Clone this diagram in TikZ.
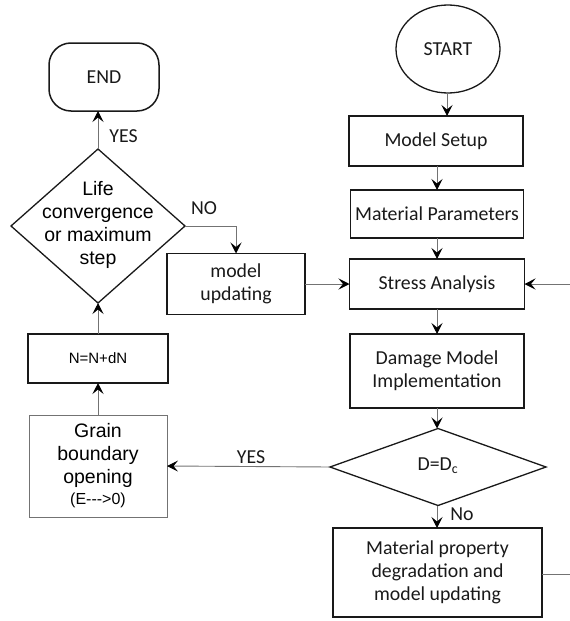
\documentclass[tikz,border=0pt]{standalone}
\usepackage{fontspec}
\setmainfont{Carlito}
\newfontfamily\arialf{Liberation Sans}
\usetikzlibrary{arrows.meta,shapes.geometric}
\begin{document}
\begin{tikzpicture}[x=1pt,y=-1pt,
  cfont/.style={font=\fontsize{19.8}{23}\selectfont},
  afont/.style={font=\arialf\fontsize{19.5}{23}\selectfont},
  box/.style={draw=black!90, line width=1.5pt, inner sep=0pt, outer sep=0pt, align=center, text=black!90, cfont},
  thinbox/.style={draw=black!55, line width=0.8pt, inner sep=0pt, outer sep=0pt, align=center, text=black, afont},
  dia/.style={diamond, draw=black!90, line width=1.3pt, inner sep=0pt, outer sep=0pt},
  arr/.style={draw=black!55, line width=0.9pt, -{Stealth[length=11pt,width=11pt,inset=4.5pt,color=black]}},
  plain/.style={draw=black!55, line width=0.9pt},
  lab/.style={cfont, text=black!90, inner sep=0pt}
]
\useasboundingbox (0,0) rectangle (570,621);

% left column
\node[box, rounded corners=22pt, minimum width=110pt, minimum height=68pt] (end) at (104,77) {END};
\node[dia, minimum width=174pt, minimum height=154pt] (life) at (98,226) {};
\node[afont, align=center, text=black, inner sep=0pt] (lifet) at (98,225) {Life\\convergence\\or maximum\\step};
\node[box, minimum width=140pt, minimum height=49pt, text=black, font=\arialf\fontsize{15}{18}\selectfont] (nn) at (98,358.5) {N=N+dN};
\node[thinbox, minimum width=138pt, minimum height=102pt] (gb) at (98,466) {Grain\\boundary\\opening\\[-2pt]{\fontsize{16}{18}\selectfont (E-{}-{}->0)}};
\node[box, minimum width=138pt, minimum height=61pt] (mu) at (236,284) {model\\updating};

% right column
\node[ellipse, draw=black!90, line width=1.3pt, inner sep=0pt, outer sep=0pt, minimum width=104pt, minimum height=88pt, cfont, text=black!90] (start) at (448,49) {START};
\node[box, minimum width=174pt, minimum height=50pt] (ms) at (436,141) {Model Setup};
\node[box, minimum width=173pt, minimum height=48pt] (mp) at (437,214) {Material Parameters};
\node[box, minimum width=175pt, minimum height=50pt] (sa) at (437,284) {Stress Analysis};
\node[box, minimum width=174pt, minimum height=74pt] (dm) at (437,371) {Damage Model\\Implementation};
\node[dia, minimum width=216pt, minimum height=77pt] (dd) at (438,467) {};
\node[cfont, text=black!90, inner sep=0pt] (ddt) at (438,466) {D=D\textsubscript{c}};
\node[box, minimum width=209pt, minimum height=89pt] (mpd) at (437.5,572.5) {Material property\\degradation and\\model updating};

\coordinate (rin) at (570,284);
\coordinate (rout) at (570,574);

% connectors
\draw[arr] (start.south -| 447,0) -- (447,0 |- ms.north);
\draw[arr] (ms.south -| 437,0) -- (mp.north);
\draw[arr] (mp) -- (sa);
\draw[arr] (sa) -- (dm);
\draw[arr] (dm.south) -- (dm.south |- dd.north);
\draw[arr] (dd.south -| dm.south) -- (mpd.north -| dm.south);
\draw[arr] (dd.west) -- (gb.east);
\draw[arr] (gb) -- (nn);
\draw[arr] (nn) -- (life.south);
\draw[arr] (life.north) -- (life.north |- end.south);
\draw[arr] (life.east) -| (mu.north);
\draw[arr] (mu.east) -- (sa.west);
\draw[arr] (rin) -- (sa.east);
\draw[plain] (mpd.east |- rout) -- (rout);

% labels
\node[lab] (lyes1) at (123.5,136) {YES};
\node[lab] (lno1) at (204,208.5) {NO};
\node[lab] (lyes2) at (251,457) {YES};
\node[lab] (lno2) at (462,514.5) {No};
\end{tikzpicture}
\end{document}
